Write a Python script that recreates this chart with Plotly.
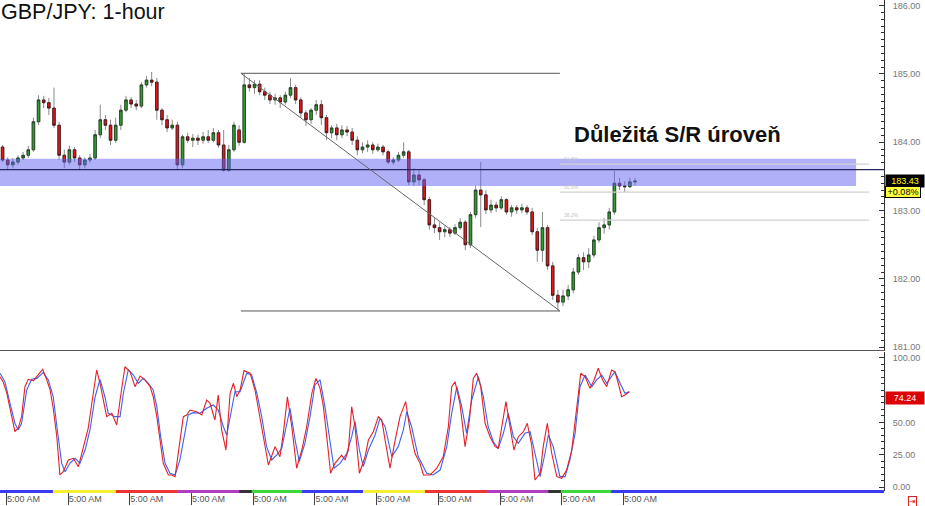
import plotly.graph_objects as go

# 2-hour candles, x in hours from the left edge of the chart
candle_hours = [2 * i + 1 for i in range(124)]

opens = [183.93, 183.74, 183.67, 183.71, 183.77, 183.81, 183.89, 184.30, 184.62, 184.58,
         184.50, 184.25, 183.81, 183.71, 183.89, 183.77, 183.67, 183.74, 183.77, 184.11,
         184.33, 184.25, 184.03, 184.25, 184.47, 184.62, 184.56, 184.53, 184.84, 184.91,
         184.88, 184.47, 184.33, 184.21, 184.25, 183.67, 184.08, 184.03, 184.06, 184.03,
         184.08, 184.03, 184.14, 183.96, 183.59, 183.89, 184.18, 184.00, 184.84, 184.80,
         184.85, 184.74, 184.69, 184.62, 184.65, 184.59, 184.69, 184.80, 184.62, 184.43,
         184.33, 184.47, 184.55, 184.36, 184.14, 184.21, 184.11, 184.18, 184.15, 184.03,
         183.89, 183.93, 183.96, 183.89, 183.93, 183.86, 183.71, 183.74, 183.81, 183.86,
         183.42, 183.52, 183.45, 183.16, 182.79, 182.75, 182.69, 182.72, 182.67, 182.75,
         182.83, 182.50, 182.94, 183.30, 183.23, 183.01, 183.08, 183.04, 183.16, 182.98,
         183.04, 183.01, 183.04, 182.98, 182.69, 182.42, 182.75, 182.19, 181.76, 181.66,
         181.75, 181.84, 182.10, 182.31, 182.25, 182.35, 182.57, 182.75, 182.79, 182.98,
         183.40, 183.36, 183.35, 183.42]
highs = [183.96, 183.78, 183.77, 183.81, 183.86, 183.95, 184.36, 184.69, 184.68, 184.65,
         184.80, 184.30, 183.89, 183.95, 183.93, 183.81, 183.78, 183.83, 184.18, 184.55,
         184.40, 184.33, 184.36, 184.55, 184.68, 184.66, 184.62, 184.88, 184.97, 185.03,
         184.94, 184.50, 184.40, 184.33, 184.30, 184.11, 184.14, 184.12, 184.11, 184.15,
         184.18, 184.21, 184.18, 184.18, 183.96, 184.30, 184.25, 185.01, 184.94, 184.91,
         184.91, 184.80, 184.74, 184.71, 184.69, 184.74, 184.94, 184.84, 184.66, 184.47,
         184.50, 184.62, 184.62, 184.40, 184.25, 184.27, 184.25, 184.24, 184.21, 184.09,
         184.00, 184.03, 184.00, 183.98, 183.96, 183.89, 183.78, 183.86, 184.00, 183.89,
         183.62, 183.59, 183.48, 183.20, 182.89, 182.83, 182.77, 182.76, 182.80, 182.89,
         182.86, 182.98, 183.36, 183.71, 183.30, 183.16, 183.13, 183.21, 183.18, 183.08,
         183.08, 183.10, 183.08, 183.04, 182.75, 182.98, 182.79, 182.25, 181.84, 181.84,
         181.91, 182.16, 182.36, 182.39, 182.45, 182.63, 182.83, 182.89, 183.04, 183.58,
         183.48, 183.43, 183.48, 183.48]
lows = [183.71, 183.59, 183.62, 183.67, 183.74, 183.77, 183.86, 184.25, 184.50, 184.40,
        184.21, 183.74, 183.62, 183.67, 183.71, 183.59, 183.62, 183.70, 183.74, 184.06,
        184.18, 183.96, 183.99, 184.18, 184.44, 184.50, 184.47, 184.50, 184.80, 184.82,
        184.33, 184.25, 184.15, 184.18, 183.59, 183.62, 183.99, 183.93, 183.96, 183.98,
        183.99, 184.00, 183.92, 183.57, 183.57, 183.86, 183.95, 183.98, 184.74, 184.71,
        184.69, 184.62, 184.56, 184.55, 184.50, 184.55, 184.65, 184.56, 184.36, 184.24,
        184.27, 184.40, 184.25, 184.03, 184.06, 184.03, 184.06, 184.09, 183.96, 183.81,
        183.84, 183.86, 183.83, 183.86, 183.81, 183.68, 183.67, 183.71, 183.77, 183.37,
        183.36, 183.37, 183.08, 182.72, 182.67, 182.57, 182.61, 182.61, 182.64, 182.72,
        182.42, 182.45, 182.89, 182.76, 182.95, 182.96, 182.98, 183.01, 182.94, 182.91,
        182.95, 182.96, 182.94, 182.64, 182.25, 182.25, 182.13, 181.69, 181.54, 181.60,
        181.69, 181.79, 182.06, 182.13, 182.16, 182.31, 182.53, 182.66, 182.72, 182.94,
        183.30, 183.27, 183.33, 183.37]
closes = [183.74, 183.67, 183.71, 183.77, 183.81, 183.89, 184.30, 184.62, 184.58, 184.50,
          184.25, 183.81, 183.71, 183.89, 183.77, 183.67, 183.74, 183.77, 184.11, 184.33,
          184.25, 184.03, 184.25, 184.47, 184.62, 184.56, 184.53, 184.84, 184.91, 184.88,
          184.47, 184.33, 184.21, 184.25, 183.67, 184.08, 184.03, 184.06, 184.03, 184.08,
          184.03, 184.14, 183.96, 183.59, 183.89, 184.25, 184.00, 184.84, 184.80, 184.85,
          184.74, 184.69, 184.62, 184.65, 184.59, 184.69, 184.80, 184.62, 184.43, 184.33,
          184.47, 184.55, 184.36, 184.14, 184.21, 184.11, 184.18, 184.15, 184.03, 183.89,
          183.93, 183.96, 183.89, 183.93, 183.86, 183.71, 183.74, 183.81, 183.86, 183.42,
          183.52, 183.45, 183.16, 182.79, 182.75, 182.69, 182.72, 182.67, 182.75, 182.83,
          182.50, 182.94, 183.30, 183.23, 183.01, 183.08, 183.04, 183.16, 182.98, 183.04,
          183.01, 183.04, 182.98, 182.69, 182.42, 182.75, 182.19, 181.76, 181.66, 181.75,
          181.84, 182.10, 182.31, 182.25, 182.35, 182.57, 182.75, 182.79, 182.98, 183.40,
          183.36, 183.35, 183.42, 183.43]

# stochastic %K (red) and %D (blue)
k_hours = [0, 1.3, 2.6, 3.9, 5.8, 7.1, 8.4, 9.7, 11, 13, 14.9, 16.6, 18.2, 19.5, 20.7, 22.1,
           23.3, 24.6, 26.6, 28.5, 30.5, 32.4, 34.3, 36.3, 37.6, 38.9, 40.2, 41.5, 43.5, 45.4,
           46.7, 48.6, 50.6, 52.5, 54.5, 56.4, 58.4, 59.6, 61, 62.2, 63.5, 65.5, 66.8, 68.1,
           69.4, 71.3, 72.6, 73.9, 76.5, 78.5, 80.4, 81.7, 83.6, 84.9, 86.2, 87.9, 89.5, 90.8,
           92.1, 93.4, 94.9, 97.3, 99.2, 101.1, 103.1, 104.4, 107, 108.9, 110.2, 111.8, 113.5,
           115.4, 117.4, 119.3, 121.3, 122.9, 124.5, 125.8, 127.1, 128.6, 130.3, 132.9, 134.2,
           135.5, 136.8, 138.1, 139.8, 142, 143.3, 145.2, 147.2, 148.5, 149.8, 151.7, 153.7,
           155.6, 157.8, 159.5, 161.4, 163.4, 164.7, 167.3, 169.9, 172.4, 174.4, 175.7, 177,
           178.9, 180.9, 182.6, 184.1, 185.4, 187, 188.7, 190.6, 192.6, 193.8, 195.2, 196.8,
           198.4, 199.9, 201.6, 203.6, 205.1, 206.8, 208.1, 210.1, 211.3, 212.9, 214.6, 216.6,
           218.5, 220.4, 222.4, 224.3, 225.9, 227.6, 229.5, 231.1, 232.7, 234.4, 236, 237.9,
           239.2, 240.5, 241.8, 243.1, 244.8]
k_values = [85.3, 81, 73, 59.5, 42.8, 45.6, 54.4, 77.6, 83.3, 82.2, 86.6, 91, 82.8, 75, 60.9,
            38.9, 9.3, 11.8, 20.9, 22.2, 15.7, 31.2, 45.4, 72.5, 90.5, 80.2, 67.3, 54.4, 57,
            48, 67.3, 93, 89.2, 77.6, 85.8, 82.8, 77.6, 69.8, 54.4, 38.9, 18.3, 9.3, 9.3, 8,
            28.6, 54.4, 55.7, 59.5, 58.2, 55.7, 67.3, 64.7, 51.8, 71.2, 44.1, 28.6, 72.5, 80.2,
            69.8, 75, 90, 88, 75, 54.4, 31.2, 17, 31.2, 23.4, 41.5, 69.8, 46.6, 14.5, 28.6,
            46.6, 72.5, 84, 76.3, 62.1, 38.9, 10.6, 18.3, 24.7, 20.9, 28.6, 62.1, 46.6, 10.6,
            23.4, 36.3, 42.8, 54.4, 51.8, 36.3, 14.5, 36.3, 54.4, 66, 44.1, 26.1, 18.3, 9.3,
            9.3, 14.5, 23.4, 46.6, 77.6, 81.4, 64.7, 31.2, 51.8, 84, 88, 77.6, 49.3, 38.9,
            31.2, 29.9, 46.6, 66, 46.6, 28.6, 38.9, 42.8, 49.3, 32.5, 5.4, 10.6, 31.2, 49.3,
            26.1, 8, 6.7, 13.1, 28.6, 59.5, 88, 85.3, 76.3, 82.8, 91.8, 82.8, 77.6, 90.5, 89.2,
            80.2, 69.8, 71.2, 73.7]
d_hours = [0, 1.9, 3.9, 5.8, 7.1, 8.4, 10.4, 12.3, 14.3, 16.8, 18.8, 20.7, 22.3, 24, 25.3,
           27.2, 29.2, 31.1, 33.1, 35, 37, 38.9, 40.8, 42.1, 44.7, 46.7, 48, 49.9, 51.9, 53.8,
           55.7, 57.7, 59.6, 61, 62.5, 64.2, 66.1, 68.1, 70, 72, 73.2, 75.2, 77.8, 80.4, 83,
           84.9, 86.9, 88.2, 90.1, 91.4, 93.4, 96, 97.9, 99.9, 101.8, 103.7, 105.7, 107.6,
           109.6, 111.2, 112.8, 114.8, 116.4, 118.6, 120.6, 122.5, 124.5, 126.4, 128.4, 129.9,
           132.3, 134.9, 136.8, 138.1, 139.8, 141.3, 143.3, 145.9, 147.8, 149.8, 152.4, 154.9,
           156.9, 158.2, 160.1, 162.7, 166, 168.5, 171.2, 173.8, 175.7, 177.7, 179.6, 181.5,
           183.5, 186.1, 188, 189.9, 191.9, 193.8, 195.8, 197.7, 199.7, 201.6, 204.2, 206.2,
           208.1, 210.1, 212, 213.3, 215.2, 217.8, 219.8, 221.7, 223.7, 225.6, 227.6, 230.2,
           232.1, 234.1, 236, 239.2, 241.2, 243.1, 244.8]
d_values = [88, 81.4, 64.7, 49.3, 44.1, 49.3, 75, 83.3, 84, 88.4, 82.8, 69.8, 44.1, 18.3, 11.8,
            18.3, 22.2, 18.3, 28.6, 44.1, 69.8, 83.3, 69.8, 57, 54.4, 54.4, 72.5, 90.5, 86.6,
            80.2, 84, 80.2, 75, 62.1, 38.9, 18.3, 10.6, 9.3, 20.9, 44.1, 55.7, 57.5, 57, 60.9,
            63.4, 59.5, 46.6, 40.2, 59.5, 73.7, 73.7, 88, 86.6, 72.5, 54.4, 31.2, 20.9, 24.7,
            29.9, 46.6, 60.9, 36.3, 19.6, 33.8, 54.4, 78.9, 82.8, 62.1, 33.8, 14.5, 18.3, 26.1,
            38.9, 50.5, 28.6, 15.7, 28.6, 40.2, 53.1, 46.6, 23.4, 31.2, 44.1, 58.2, 46.6, 23.4,
            10.6, 9.3, 13.1, 31.2, 57, 77.6, 62.1, 41.5, 67.3, 85.3, 69.8, 46.6, 35, 29.9, 41.5,
            57, 38.9, 33.8, 41.5, 42.8, 26.1, 8, 26.1, 40.2, 31.2, 8, 8, 20.9, 41.5, 77.6, 86.6,
            77.6, 82.8, 86.6, 80.2, 89.2, 80.2, 72.5, 73.7]

day_ticks = [2.5 + 24 * k for k in range(11)]
day_labels = ["5:00 AM"] * 11
# session colour strip under the chart: boundaries in hours and colours
strip_edges = [0, 20.6, 45.1, 68.9, 93, 98, 117.5, 141.2, 165.3, 189.4, 213.2, 218.2, 237.7, 343.9]
strip_colors = ["#3a3af0", "#f4f030", "#ee3333", "#b03cc0", "#333333", "#3ad83a",
                "#3a3af0", "#f4f030", "#ee3333", "#b03cc0", "#333333", "#3ad83a", "#3a3af0"]

sr_low, sr_high, sr_level = 183.36, 183.76, 183.60
sr_end = 333
fib_start, fib_end, fib_ext = 93.7, 217.8, 338
fib_high, fib_low = 185.01, 181.53
fib_levels = [0.382, 0.5, 0.618]
last_price, last_change, last_stoch = "183.43", "+0.08%", "74.24"

x_range = [0, 343.86]
font = "Liberation Sans, Arial, sans-serif"

fig = go.Figure()

# wicks (grey)
fig.add_trace(go.Candlestick(
    x=candle_hours, open=opens, high=highs, low=lows, close=closes,
    increasing=dict(line=dict(color="#8a8a8a", width=1), fillcolor="#8a8a8a"),
    decreasing=dict(line=dict(color="#8a8a8a", width=1), fillcolor="#8a8a8a"),
    whiskerwidth=0, showlegend=False, hoverinfo="skip", xaxis="x", yaxis="y"))
# bodies
body_hi = [max(o, c) for o, c in zip(opens, closes)]
body_lo = [min(o, c) for o, c in zip(opens, closes)]
fig.add_trace(go.Candlestick(
    x=candle_hours, open=opens, high=body_hi, low=body_lo, close=closes,
    increasing=dict(line=dict(color="#1f3a1f", width=0.8), fillcolor="#2f9e2f"),
    decreasing=dict(line=dict(color="#3a1414", width=0.8), fillcolor="#e8151b"),
    whiskerwidth=0, showlegend=False, hoverinfo="skip", xaxis="x", yaxis="y"))

fig.add_trace(go.Scatter(x=d_hours, y=d_values, mode="lines", line=dict(color="#3a62f0", width=1.1),
                         showlegend=False, xaxis="x2", yaxis="y2"))
fig.add_trace(go.Scatter(x=k_hours, y=k_values, mode="lines", line=dict(color="#e3202a", width=1.1),
                         showlegend=False, xaxis="x2", yaxis="y2"))

shapes = []
# S/R zone and level
shapes.append(dict(type="rect", xref="x", yref="y", x0=x_range[0], x1=sr_end, y0=sr_low, y1=sr_high,
                   fillcolor="rgba(97,97,241,0.5)", line_width=0, layer="above"))
shapes.append(dict(type="line", xref="x", yref="y", x0=x_range[0], x1=x_range[1], y0=sr_level, y1=sr_level,
                   line=dict(color="#24245e", width=1.2), layer="above"))
# fibonacci tool
for y in [fib_high, fib_low]:
    shapes.append(dict(type="line", xref="x", yref="y", x0=fib_start, x1=fib_end, y0=y, y1=y,
                       line=dict(color="#555555", width=1), layer="above"))
shapes.append(dict(type="line", xref="x", yref="y", x0=fib_start, x1=fib_end, y0=fib_high, y1=fib_low,
                   line=dict(color="#666666", width=1), layer="above"))
for lv in fib_levels:
    y = fib_low + lv * (fib_high - fib_low)
    shapes.append(dict(type="line", xref="x", yref="y", x0=fib_end, x1=fib_ext, y0=y, y1=y,
                       line=dict(color="#d2d2d2", width=1.3), layer="above"))
# session strip
for i, col in enumerate(strip_colors):
    shapes.append(dict(type="line", xref="x2", yref="paper", x0=strip_edges[i], x1=strip_edges[i + 1],
                       y0=-0.001, y1=-0.001, line=dict(color=col, width=3), layer="above"))

annotations = [
    dict(text="GBP/JPY: 1-hour", xref="paper", yref="paper", x=0, y=1, xanchor="left", yanchor="top",
         showarrow=False, font=dict(family=font, size=21.5, color="#111111"), xshift=-1, yshift=2),
    dict(text="<b>Důležitá S/R úroveň</b>", xref="x", yref="y", x=222.5, y=184.12,
         xanchor="left", yanchor="middle", showarrow=False,
         font=dict(family=font, size=22, color="#111111")),
    dict(text=last_price, xref="paper", yref="y", x=1, y=183.43, xanchor="left", yanchor="middle",
         showarrow=False, bgcolor="#000000", font=dict(family=font, size=9, color="#ffff00"),
         width=36, borderpad=1, xshift=1),
    dict(text=last_change, xref="paper", yref="y", x=1, y=183.43, xanchor="left", yanchor="middle",
         showarrow=False, bgcolor="#ffff40", bordercolor="#000000", borderwidth=1,
         font=dict(family=font, size=9, color="#000000"), width=34, borderpad=0, xshift=1, yshift=-11),
    dict(text=last_stoch, xref="paper", yref="y2", x=1, y=74.24, xanchor="left", yanchor="middle",
         showarrow=False, bgcolor="#dd0000", font=dict(family=font, size=9, color="#ffffff"),
         width=36, borderpad=1, xshift=1, yshift=-7),
    dict(text="⇥", xref="paper", yref="paper", x=1, y=0, xanchor="left", yanchor="top",
         showarrow=False, bordercolor="#dd2222", borderwidth=1, borderpad=0,
         font=dict(family="DejaVu Sans", size=8, color="#dd2222"), xshift=24, yshift=-5),
]
for lv in fib_levels:
    y = fib_low + lv * (fib_high - fib_low)
    annotations.append(dict(text=f"{lv * 100:.1f}%", xref="x", yref="y", x=fib_end + 1, y=y,
                            xanchor="left", yanchor="bottom", showarrow=False,
                            font=dict(family=font, size=5, color="#c4c4c4")))

fig.update_layout(
    width=925, height=506,
    margin=dict(l=0, r=41, t=0, b=15),
    paper_bgcolor="white", plot_bgcolor="white",
    shapes=shapes, annotations=annotations,
    xaxis=dict(domain=[0, 1], range=x_range, anchor="y", showticklabels=False, ticks="",
               showgrid=False, zeroline=False, showline=True, linecolor="#555555", linewidth=1,
               rangeslider=dict(visible=False)),
    yaxis=dict(domain=[0.2872, 1], range=[180.959, 186.083], anchor="x", side="right",
               dtick=1, tickformat=".2f", ticks="inside", ticklen=5, tickcolor="#333333",
               minor=dict(dtick=0.1, ticks="inside", ticklen=3, tickcolor="#333333"),
               showline=True, linecolor="#333333", linewidth=1, showgrid=False, zeroline=False,
               ticklabelstandoff=6, tickfont=dict(family=font, size=9, color="#777777")),
    xaxis2=dict(domain=[0, 1], range=x_range, anchor="y2", tickvals=day_ticks, ticktext=day_labels,
                ticks="outside", ticklen=13, tickcolor="#444444", ticklabelposition="outside right",
                ticklabelstandoff=-1, showgrid=False, zeroline=False, showline=False,
                tickfont=dict(family=font, size=9, color="#555555"),
                rangeslider=dict(visible=False)),
    yaxis2=dict(domain=[0, 0.2831], range=[-3.09, 104.4], anchor="x2", side="right",
                tickvals=[0, 25, 50, 100], tickformat=".2f", ticks="inside", ticklen=5,
                tickcolor="#333333", minor=dict(dtick=5, ticks="inside", ticklen=3, tickcolor="#333333"),
                showline=True, linecolor="#333333", linewidth=1, showgrid=False, zeroline=False,
                ticklabelstandoff=6, tickfont=dict(family=font, size=9, color="#777777")),
)

# drop the browser's default body margin so the figure sits at the window's top-left corner
fig.write_html("out.html", config={"displayModeBar": False},
               post_script="document.body.style.margin='0';")
